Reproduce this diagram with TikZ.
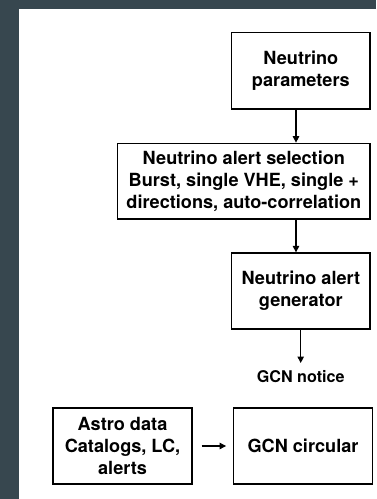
\documentclass[tikz,border=0pt]{standalone}
\usepackage{fontspec}
\setmainfont{TeX Gyre Heros}
\usetikzlibrary{arrows.meta}
\definecolor{slate}{HTML}{37474F}
\begin{document}
\begin{tikzpicture}[x=1bp,y=-1bp,
  box/.style={draw=black,line width=1.3bp,inner sep=0pt,align=center,font=\fontsize{18.2}{22.3}\selectfont\bfseries},
  conn/.style={line width=1.1bp,-{Triangle[length=6.5bp,width=6.5bp]}},
  lbl/.style={inner sep=0pt,font=\fontsize{16.2}{19}\selectfont\bfseries}]
\useasboundingbox (0,0) rectangle (376,499);
\fill[slate] (0,0) rectangle (376,499);
\fill[white] (19,9) rectangle (376,499);
\node[box,minimum width=138.5bp,minimum height=76.3bp] (p) at (300.85,70.85) {Neutrino\\parameters};
\node[box,minimum width=252.3bp,minimum height=75.7bp] (s) at (243.85,181.15) {Neutrino alert selection\\Burst, single VHE, single +\\directions, auto-correlation};
\node[box,minimum width=138.5bp,minimum height=76bp] (g) at (300.85,291) {Neutrino alert\\generator};
\node[lbl] (n) at (300.7,377) {GCN notice};
\node[box,minimum width=139bp,minimum height=76bp] (a) at (122.5,446) {Astro data\\Catalogs, LC,\\alerts};
\node[box,minimum width=138.6bp,minimum height=76bp] (c) at (303,446) {GCN circular};
\coordinate (n1) at (300.7,363);
\draw[conn] ([xshift=-4.85bp]p.south) -- ([xshift=-4.85bp]p.south |- s.north);
\draw[conn] ([xshift=-4.85bp]g.north |- s.south) -- ([xshift=-4.85bp]g.north);
\draw[conn] (g.south -| n1) -- (n1);
\draw[conn] ([xshift=9bp]a.east) -- ([xshift=-7bp]c.west);
\end{tikzpicture}
\end{document}
